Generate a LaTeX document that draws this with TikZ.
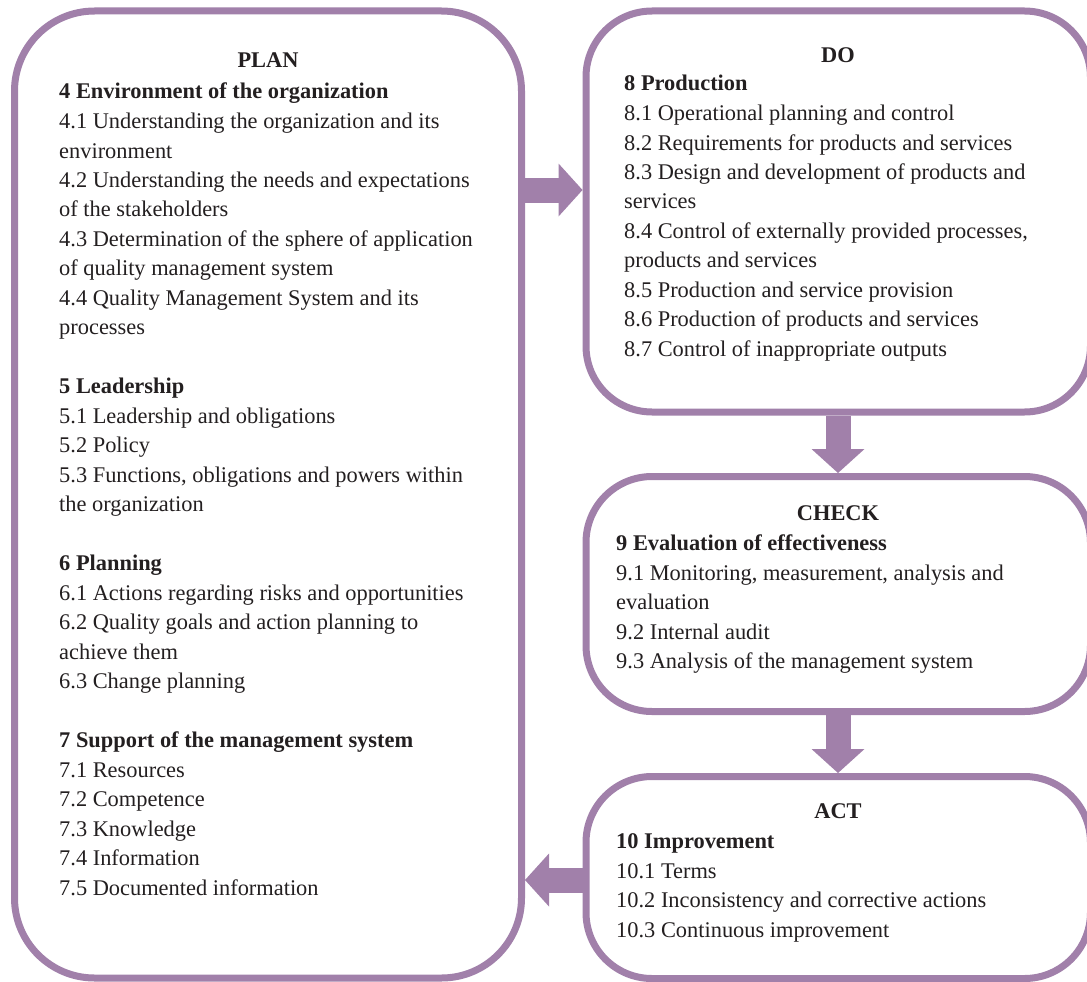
\documentclass[tikz,border=0pt]{standalone}
\usepackage{fontspec}
\setmainfont{Liberation Serif}
\usetikzlibrary{arrows.meta,calc}
\definecolor{pcol}{RGB}{161,128,170}
\definecolor{tcol}{RGB}{35,31,32}
\begin{document}
\begin{tikzpicture}[x=1pt,y=-1pt,
  box/.style={draw=pcol, line width=7pt, rectangle, inner sep=0pt},
  bigbox/.style={box, rounded corners=80pt},
  smallbox/.style={box, rounded corners=66pt},
  ttl/.style={anchor=base, inner sep=0pt, text=tcol, font=\fontsize{22.4}{29.5}\selectfont\bfseries},
  body/.style={anchor=base west, inner sep=0pt, text=tcol, font=\fontsize{22.4}{29.5}\selectfont},
  bigarrow/.style={draw=pcol, line width=25pt, -{Triangle[width=53pt,length=24pt,line width=0pt]}}
]
\useasboundingbox (0,0) rectangle (1087,982);
\fill[white] (0,0) rectangle (1087,982);

% boxes
\node[bigbox, minimum width=507pt, minimum height=967pt] (plan) at (268,494.5) {};
\node[smallbox, minimum width=504.5pt, minimum height=401pt] (do) at (838.25,211.5) {};
\node[smallbox, minimum width=504.5pt, minimum height=235pt] (check) at (838.25,594) {};
\node[smallbox, minimum width=504.5pt, minimum height=202pt] (act) at (838.25,877.5) {};

% titles
\node[ttl] (plantitle) at (268,67) {PLAN};
\node[ttl] (dotitle) at (838,62.5) {DO};
\node[ttl] (checktitle) at (838,520) {CHECK};
\node[ttl] (acttitle) at (838,818) {ACT};

% bodies
\node[body] (planbody) at (59,99) {\begin{tabular}[t]{@{}l@{}}
\textbf{4 Environment of the organization}\\
4.1 Understanding the organization and its\\
environment\\
4.2 Understanding the needs and expectations\\
of the stakeholders\\
4.3 Determination of the sphere of application\\
of quality management system\\
4.4 Quality Management System and its\\
processes\\
\\
\textbf{5 Leadership}\\
5.1 Leadership and obligations\\
5.2 Policy\\
5.3 Functions, obligations and powers within\\
the organization\\
\\
\textbf{6 Planning}\\
6.1 Actions regarding risks and opportunities\\
6.2 Quality goals and action planning to\\
achieve them\\
6.3 Change planning\\
\\
\textbf{7 Support of the management system}\\
7.1 Resources\\
7.2 Competence\\
7.3 Knowledge\\
7.4 Information\\
7.5 Documented information
\end{tabular}};

\node[body] (dobody) at (624,91) {\begin{tabular}[t]{@{}l@{}}
\textbf{8 Production}\\
8.1 Operational planning and control\\
8.2 Requirements for products and services\\
8.3 Design and development of products and\\
services\\
8.4 Control of externally provided processes,\\
products and services\\
8.5 Production and service provision\\
8.6 Production of products and services\\
8.7 Control of inappropriate outputs
\end{tabular}};

\node[body] (checkbody) at (616,550.5) {\begin{tabular}[t]{@{}l@{}}
\textbf{9 Evaluation of effectiveness}\\
9.1 Monitoring, measurement, analysis and\\
evaluation\\
9.2 Internal audit\\
9.3 Analysis of the management system
\end{tabular}};

\node[body] (actbody) at (616,848.5) {\begin{tabular}[t]{@{}l@{}}
\textbf{10 Improvement}\\
10.1 Terms\\
10.2 Inconsistency and corrective actions\\
10.3 Continuous improvement
\end{tabular}};

% arrows
\draw[bigarrow] (plan.east |- 0,190) -- (do.west |- 0,190);
\draw[bigarrow] (838,0 |- do.south) -- (838,0 |- check.north);
\draw[bigarrow] (838,0 |- check.south) -- (838,0 |- act.north);
\draw[bigarrow] (act.west |- 0,880) -- (plan.east |- 0,880);
\end{tikzpicture}
\end{document}
